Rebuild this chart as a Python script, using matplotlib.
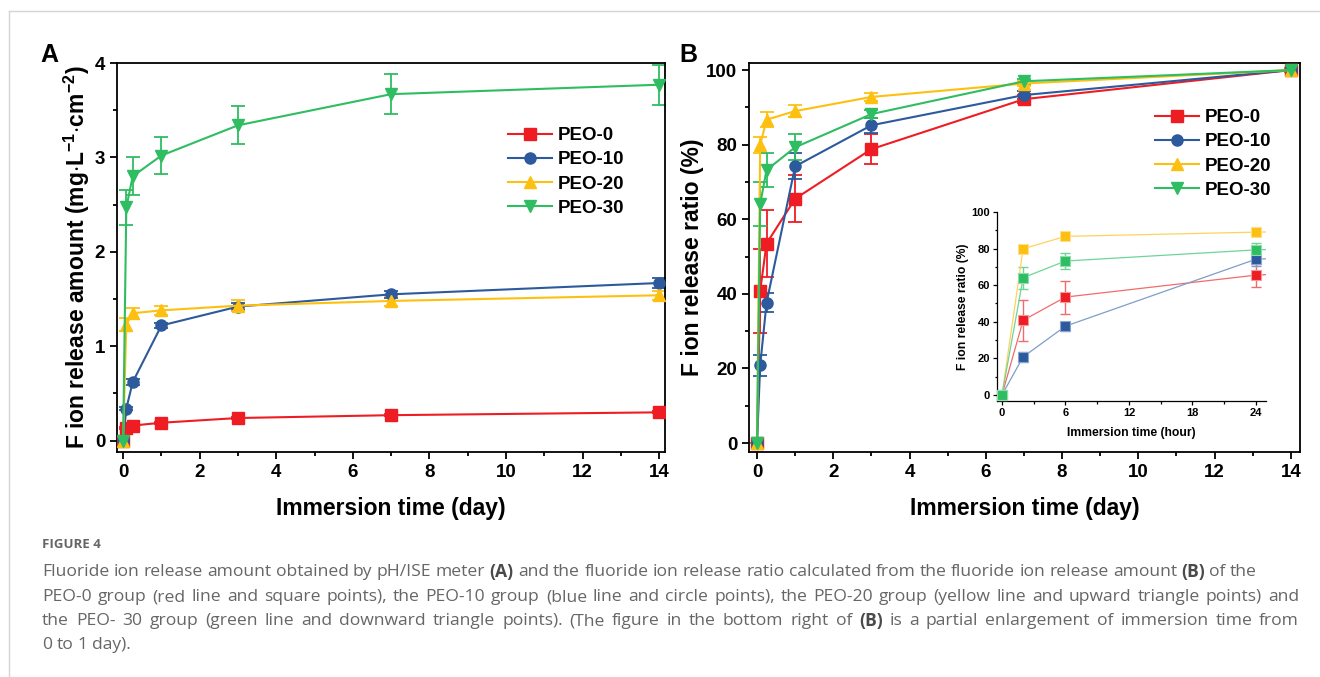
import matplotlib
matplotlib.use("Agg")
import matplotlib.pyplot as plt
from matplotlib.lines import Line2D
from matplotlib.ticker import MultipleLocator

plt.rcParams['font.family'] = ['Liberation Sans', 'DejaVu Sans']
plt.rcParams['font.weight'] = 'bold'
plt.rcParams['axes.labelweight'] = 'bold'
plt.rcParams['mathtext.fontset'] = 'custom'
plt.rcParams['mathtext.rm'] = 'Liberation Sans:bold'
plt.rcParams['mathtext.it'] = 'Liberation Sans:bold'
plt.rcParams['mathtext.bf'] = 'Liberation Sans:bold'

# ---- data ----
groups = ['PEO-0', 'PEO-10', 'PEO-20', 'PEO-30']
days = [0, 0.083, 0.25, 1, 3, 7, 14]
hours = [0, 2, 6, 24, 72, 168, 336]

# (A) fluoride release amount, mg/L/cm2
amount = {
    'PEO-0':  [0.0, 0.13, 0.16, 0.19, 0.24, 0.27, 0.30],
    'PEO-10': [0.0, 0.34, 0.62, 1.22, 1.42, 1.55, 1.67],
    'PEO-20': [0.0, 1.23, 1.35, 1.38, 1.43, 1.48, 1.54],
    'PEO-30': [0.0, 2.47, 2.80, 3.02, 3.34, 3.67, 3.77],
}
amount_err = {
    'PEO-0':  [0.0, 0.01, 0.01, 0.01, 0.01, 0.01, 0.01],
    'PEO-10': [0.0, 0.02, 0.03, 0.03, 0.04, 0.04, 0.05],
    'PEO-20': [0.0, 0.07, 0.06, 0.05, 0.06, 0.05, 0.05],
    'PEO-30': [0.0, 0.19, 0.20, 0.20, 0.20, 0.21, 0.21],
}
# (B) fluoride release ratio, %
ratio = {
    'PEO-0':  [0.0, 40.8, 53.5, 65.5, 78.8, 92.2, 100.0],
    'PEO-10': [0.0, 20.8, 37.6, 74.2, 85.2, 93.3, 100.0],
    'PEO-20': [0.0, 79.9, 86.7, 89.0, 92.8, 96.4, 100.0],
    'PEO-30': [0.0, 64.1, 73.2, 79.3, 88.2, 97.0, 100.0],
}
ratio_err = {
    'PEO-0':  [0, 11.2, 9.0, 6.3, 4.0, 1.0, 0.5],
    'PEO-10': [0, 2.7, 2.5, 3.5, 2.0, 1.0, 0.5],
    'PEO-20': [0, 2.2, 2.0, 1.6, 1.0, 0.8, 0.5],
    'PEO-30': [0, 6.0, 4.5, 3.5, 1.0, 0.6, 0.5],
}

# tick values
day_ticks = [0, 2, 4, 6, 8, 10, 12, 14]
amount_ticks = [0, 1, 2, 3, 4]
ratio_ticks = [0, 20, 40, 60, 80, 100]
hour_ticks = [0, 6, 12, 18, 24]

colors = {'PEO-0': '#ee1d23', 'PEO-10': '#2c5a9c', 'PEO-20': '#fec010', 'PEO-30': '#2fbd62'}
markers = {'PEO-0': 's', 'PEO-10': 'o', 'PEO-20': '^', 'PEO-30': 'v'}
inset_line = {'PEO-0': '#f26b6b', 'PEO-10': '#7f9dc9', 'PEO-20': '#fdd25e', 'PEO-30': '#6fd597'}
inset_edge = {'PEO-0': '#f59a9a', 'PEO-10': '#8aa6cf', 'PEO-20': '#fde08f', 'PEO-30': '#8fdcad'}

W, H = 1320, 677
fig = plt.figure(figsize=(W / 100, H / 100), dpi=100)


def box(l, t, r, b):
    return [l / W, 1 - b / H, (r - l) / W, (b - t) / H]


def style_axis(ax, xt, yt, xminor, yminor, lw=1.3, size=13.5, major=5, minor=3, pad=3.5):
    for s in ax.spines.values():
        s.set_linewidth(lw)
    ax.set_xticks(xt, [str(v) for v in xt], fontsize=size, fontweight='bold', family='Liberation Sans')
    ax.set_yticks(yt, [str(v) for v in yt], fontsize=size, fontweight='bold', family='Liberation Sans')
    ax.xaxis.set_minor_locator(MultipleLocator(xminor))
    ax.yaxis.set_minor_locator(MultipleLocator(yminor))
    ax.tick_params(which='major', direction='out', length=major, width=lw, pad=pad)
    ax.tick_params(which='minor', direction='out', length=minor, width=lw)


def draw_series(ax, y, yerr, ms=8):
    for g in groups:
        ax.errorbar(days, y[g], yerr=yerr[g], fmt='none', ecolor=colors[g],
                    elinewidth=1.3, capsize=5, capthick=1.3, zorder=2)
        ax.plot(days, y[g], color=colors[g], marker=markers[g], ms=ms, lw=1.5,
                label=g, zorder=3)


leg_kw = dict(frameon=False, prop={'size': 13.5, 'weight': 'bold'}, handlelength=2.35,
              handletextpad=0.3, labelspacing=0.38, borderpad=0, borderaxespad=0, loc='upper left')

# ---- panel A ----
axA = fig.add_axes(box(117, 63, 665, 452))
draw_series(axA, amount, amount_err)
style_axis(axA, day_ticks, amount_ticks, 1, 0.5)
axA.set_xlim(-0.16, 14.15)
axA.set_ylim(-0.12, 4.0)
axA.set_xlabel('Immersion time (day)', fontsize=16.5, fontweight='bold', va='center')
axA.xaxis.set_label_coords(0.5, (452 - 508) / 389)
axA.set_ylabel(r'F ion release amount (mg$\cdot$L$^{-1}$$\cdot$cm$^{-2}$)', fontsize=16.5,
               fontweight='bold', va='center')
axA.yaxis.set_label_coords((77 - 117) / 548, 0.5)
axA.legend(bbox_to_anchor=(508 / W, 1 - 127 / H), bbox_transform=fig.transFigure, **leg_kw)

# ---- panel B ----
axB = fig.add_axes(box(749, 63, 1300, 452))
draw_series(axB, ratio, ratio_err)
style_axis(axB, day_ticks, ratio_ticks, 1, 10)
axB.set_xlim(-0.21, 14.24)
axB.set_ylim(-2.4, 101.9)
axB.set_xlabel('Immersion time (day)', fontsize=16.5, fontweight='bold', va='center')
axB.xaxis.set_label_coords(0.5, (452 - 508) / 389)
axB.set_ylabel('F ion release ratio (%)', fontsize=16.5, fontweight='bold', va='center')
axB.yaxis.set_label_coords((692 - 749) / 551, 0.5)
axB.legend(bbox_to_anchor=(1155 / W, 1 - 109 / H), bbox_transform=fig.transFigure, **leg_kw)

# ---- inset (first day, hours) ----
axI = fig.add_axes(box(997, 212, 1266, 401))
axI.patch.set_alpha(0)
for g in groups:
    axI.errorbar(hours, ratio[g], yerr=ratio_err[g], fmt='none', ecolor=inset_line[g],
                 elinewidth=1.0, capsize=3.5, capthick=1.0, zorder=2)
    axI.plot(hours, ratio[g], color=inset_line[g], lw=0.9, marker='s', ms=7.5,
             mfc=colors[g], mec=inset_edge[g], mew=0.8, zorder=3)
style_axis(axI, hour_ticks, ratio_ticks, 3, 10, lw=0.9, size=8, major=3, minor=1.8, pad=2)
axI.set_xlim(-0.47, 24.95)
axI.set_ylim(-3.3, 100)
axI.spines['top'].set_visible(False)
axI.spines['right'].set_visible(False)
axI.set_xlabel('Immersion time (hour)', fontsize=8.7, fontweight='bold', va='center')
axI.xaxis.set_label_coords(0.5, (401 - 433) / 189)
axI.set_ylabel('F ion release ratio (%)', fontsize=8.7, fontweight='bold', va='center')
axI.yaxis.set_label_coords((963 - 997) / 269, 0.5)

# panel letters
fig.text(49 / W, 1 - 55 / H, 'A', fontsize=18, fontweight='bold', ha='center', va='center')
fig.text(688 / W, 1 - 55 / H, 'B', fontsize=18, fontweight='bold', ha='center', va='center')

# page frame lines
fig.add_artist(Line2D([9 / W, 1], [1 - 11 / H] * 2, transform=fig.transFigure, color='#d4d4d4', lw=1))
fig.add_artist(Line2D([9 / W, 9 / W], [0, 1 - 11 / H], transform=fig.transFigure, color='#d4d4d4', lw=1))

# ---- caption ----
cap_font = ['Open Sans', 'DejaVu Sans']
renderer = fig.canvas.get_renderer()


def caption_line(segments, y, right=None, size=12.6):
    words = []
    for text, bold in segments:
        for w in text.split(' '):
            if w:
                words.append((w, bold))
    arts = []
    for w, bold in words:
        arts.append(fig.text(0, 1 - y / H, w, family=cap_font, fontsize=size,
                             fontweight='bold' if bold else 'normal',
                             color='#4a4a4a' if bold else '#666666', va='center', ha='left'))
    widths = [a.get_window_extent(renderer).width for a in arts]
    if right is None:
        gap = size * 100 / 72 * 0.26
    else:
        gap = (right - 42 - sum(widths)) / (len(arts) - 1)
    x = 42
    for a, w in zip(arts, widths):
        a.set_x(x / W)
        x += w + gap


fig.text(42 / W, 1 - 545 / H, 'FIGURE 4', family=cap_font, fontsize=9.5, color='#666666',
         va='center', ha='left')
caption_line([('Fluoride ion release amount obtained by pH/ISE meter', False), ('(A)', True),
              ('and the fluoride ion release ratio calculated from the fluoride ion release amount', False),
              ('(B)', True), ('of the', False)], 572, right=1257)
caption_line([('PEO-0 group (red line and square points), the PEO-10 group (blue line and circle points), '
               'the PEO-20 group (yellow line and upward triangle points) and', False)], 597, right=1299)
caption_line([('the PEO- 30 group (green line and downward triangle points). (The figure in the bottom right of', False),
              ('(B)', True), ('is a partial enlargement of immersion time from', False)], 621, right=1299)
caption_line([('0 to 1 day).', False)], 645)

fig.savefig('out.png', dpi=100)
